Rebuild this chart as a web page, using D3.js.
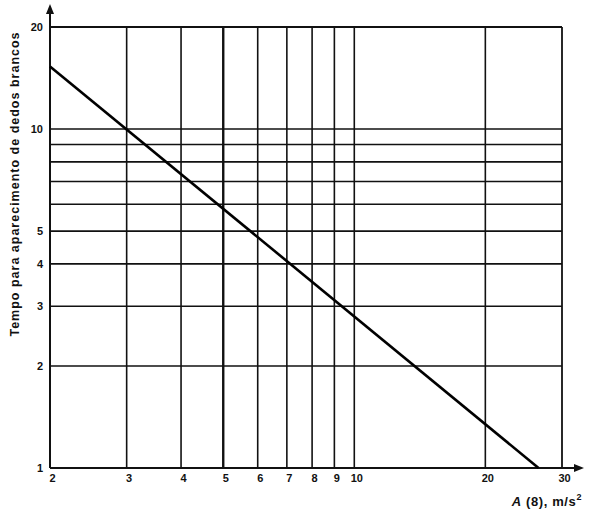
<!DOCTYPE html>
<html><head><meta charset="utf-8">
<script src="https://cdn.jsdelivr.net/npm/d3@7"></script>
<style>body{margin:0;background:#fff}svg{display:block}text{font-family:"Liberation Sans",Arial,sans-serif;font-weight:bold;fill:#111}</style>
</head><body><svg id="c" width="591" height="515"></svg>
<script>
const xTicks = [2,3,4,5,6,7,8,9,10,20,30];
const yTicks = [1,2,3,4,5,10,20];
const xGrid = [3,4,5,6,7,8,9,10,20];
const yGrid = [2,3,4,5,6,7,8,9,10];
const lineData = [{a:2, t:15.3},{a:26.5, t:1}];
const xTitle = "A (8), m/s";
const yTitle = "Tempo para aparecimento de dedos brancos";

const svg = d3.select("#c");
const x = d3.scaleLog().domain([2,30]).range([50,562]);
const y = d3.scaleLog().domain([1,20]).range([468,27]);

const g = svg.append("g");
g.selectAll("line.xg").data(xGrid).enter().append("line")
  .attr("x1",d=>x(d)).attr("x2",d=>x(d)).attr("y1",y(1)).attr("y2",y(20))
  .attr("stroke","#111").attr("stroke-width",d=>d===5?2.4:1.6);
g.selectAll("line.yg").data(yGrid).enter().append("line")
  .attr("y1",d=>y(d)).attr("y2",d=>y(d)).attr("x1",x(2)).attr("x2",x(30))
  .attr("stroke","#111").attr("stroke-width",1.6);
// frame top and right
g.append("line").attr("x1",x(2)).attr("x2",x(30)).attr("y1",y(20)).attr("y2",y(20)).attr("stroke","#111").attr("stroke-width",1.8);
g.append("line").attr("x1",x(30)).attr("x2",x(30)).attr("y1",y(20)).attr("y2",y(1)).attr("stroke","#111").attr("stroke-width",1.8);
// axes with arrows
g.append("line").attr("x1",x(2)).attr("x2",x(2)).attr("y1",y(1)).attr("y2",12).attr("stroke","#111").attr("stroke-width",2);
g.append("path").attr("d",`M${x(2)-4},14 L${x(2)},4 L${x(2)+4},14 Z`).attr("fill","#111");
g.append("line").attr("x1",x(2)).attr("x2",576).attr("y1",y(1)).attr("y2",y(1)).attr("stroke","#111").attr("stroke-width",2);
g.append("path").attr("d",`M574,${y(1)-4} L584,${y(1)} L574,${y(1)+4} Z`).attr("fill","#111");

// data line
g.append("path").datum(lineData)
  .attr("d",d3.line().x(d=>x(d.a)).y(d=>y(d.t)))
  .attr("stroke","#000").attr("stroke-width",2.6).attr("fill","none");

// axes labels
const xAxis = d3.axisBottom(x).tickValues(xTicks).tickFormat(d3.format("d")).tickSize(0).tickPadding(6);
const xa = svg.append("g").attr("transform",`translate(0,${y(1)})`).call(xAxis);
xa.select(".domain").remove();
xa.selectAll("text").attr("font-size",11).attr("font-family",null).attr("fill","#111").attr("dx",2);
const yAxis = d3.axisLeft(y).tickValues(yTicks).tickFormat(d3.format("d")).tickSize(0).tickPadding(7);
const ya = svg.append("g").attr("transform",`translate(${x(2)},0)`).call(yAxis);
ya.select(".domain").remove();
ya.selectAll("text").attr("font-size",11).attr("font-family",null).attr("fill","#111");

const xt = svg.append("text").attr("x",582).attr("y",506).attr("text-anchor","end")
  .attr("font-size",13).attr("letter-spacing",0.6);
xt.append("tspan").attr("font-style","italic").text("A");
xt.append("tspan").text(xTitle.slice(1));
xt.append("tspan").attr("font-size",9).attr("dy",-6).text("2");

svg.append("text").attr("transform","translate(19,184) rotate(-90)")
  .attr("text-anchor","middle").attr("font-size",12.5).attr("letter-spacing",1).text(yTitle);
</script></body></html>
